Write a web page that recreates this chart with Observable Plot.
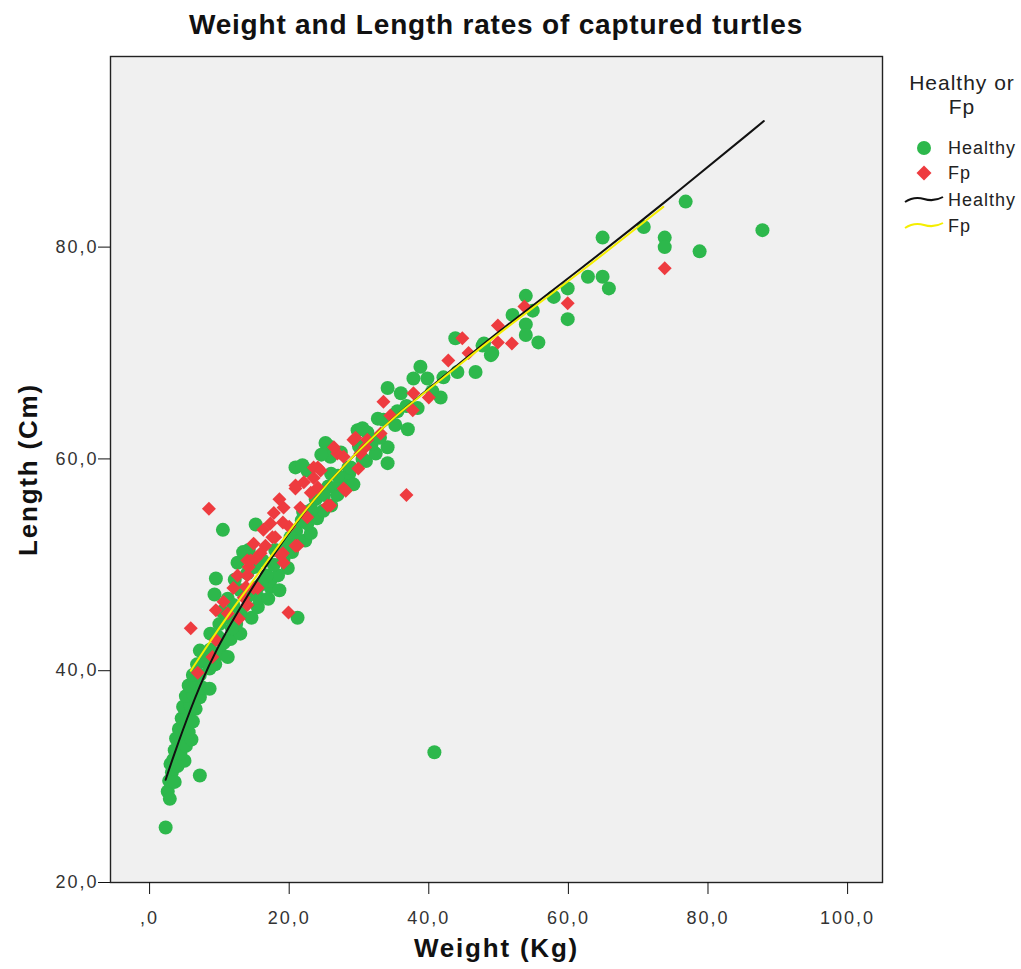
<!DOCTYPE html>
<html><head><meta charset="utf-8">
<script src="https://cdn.jsdelivr.net/npm/d3@7"></script>
<script src="https://cdn.jsdelivr.net/npm/@observablehq/plot@0.6"></script>
<style>
body{margin:0;background:#fff;font-family:"Liberation Sans",Arial,sans-serif;}
#wrap{position:relative;width:1021px;height:969px;overflow:hidden}
#title{height:48px;line-height:50px;width:992px;text-align:center;font-weight:bold;font-size:28px;letter-spacing:0.8px;color:#111}
.lg{position:absolute;font-size:18px;letter-spacing:1px;color:#222;white-space:nowrap}
</style></head>
<body><div id="wrap"><div id="title">Weight and Length rates of captured turtles</div><div id="chart"></div></div>
<script>
const xTicks = [0, 20, 40, 60, 80, 100];
const yTicks = [20, 40, 60, 80];
const groups = ["Healthy", "Fp"];
// Healthy turtles: [weight kg, length cm]
const healthyPts = [
[2.3,25.2],[2.6,28.6],[2.9,27.9],[2.8,29.6],[3.2,30.4],[3.6,29.5],[3.0,31.2],[3.4,31.6],[4.0,31.0],[5.0,31.5],[3.6,32.5],[4.4,32.2],[3.8,33.6],[4.6,33.3],[5.2,32.9],[6.0,33.5],[4.2,34.5],[5.0,34.6],[5.6,34.2],[4.6,35.5],[5.4,35.8],[6.2,35.2],[4.8,36.6],[5.8,36.8],[6.6,36.4],[5.2,37.6],[6.2,37.8],[7.2,37.5],[5.6,38.6],[6.6,38.8],[7.6,38.4],[8.6,38.3],[6.2,39.6],[7.2,39.6],[8.6,40.2],[6.8,40.6],[7.8,41.0],[9.4,40.6],[7.2,41.9],[8.7,42.0],[10.2,41.6],[11.2,41.3],[8.7,43.5],[9.8,43.2],[10.6,42.6],[11.6,43.0],[7.2,30.1],[40.8,32.3],[10.0,44.4],
[9.5,48.7],[9.3,47.2],[10.5,53.3],[15.2,53.8],[21.2,45.0],[13.0,43.5],[11.2,45.0],[12.4,44.4],[14.6,45.0],[15.5,46.0],[15.6,46.9],[15.5,47.9],[17.3,47.9],[17.3,48.5],[14.0,49.2],[14.2,51.4],[19.8,49.7],[18.4,49.0],[16.8,49.0],[19.2,50.6],[18.0,51.4],[20.4,51.2],[22.3,52.3],[23.1,53.0],[22.6,53.9],[21.0,53.2],[20.2,52.6],[24.0,54.4],[24.9,55.1],[26.0,55.6],[22.0,55.0],[23.8,56.2],[26.9,56.6],[25.6,57.4],[28.0,58.0],[20.9,59.2],[12.0,46.2],[13.0,47.6],[11.2,46.8],[12.6,50.2],[13.4,51.2],[12.2,48.6],[16.2,50.4],[13.0,45.4],[17.0,46.8],[18.6,47.6],
[16.0,48.2],[17.8,50.0],[19.6,51.8],[21.4,52.2],[15.0,49.8],[21.8,54.2],[23.2,55.2],[25.0,56.6],[27.2,57.6],[28.6,58.6],[30.0,61.2],[31.0,59.8],[10.4,45.6],[11.8,44.0],[14.0,47.0],
[25.5,61.3],[29.8,62.7],[31.2,62.5],[28.5,59.2],[30.5,62.9],[32.7,63.8],[33.5,63.7],[34.1,61.1],[32.4,60.5],[34.1,59.6],[25.2,61.5],[27.4,60.6],[25.9,60.2],[22.6,58.9],[21.9,59.4],[28.8,59.2],[30.5,60.0],[31.8,61.4],[27.0,58.4],[29.2,57.6],[26.0,58.6],[24.6,60.4],[34.1,66.7],[36.0,66.2],[37.8,67.6],[38.8,68.7],[39.8,67.6],[41.7,65.8],[42.1,67.7],[43.8,71.4],[44.1,68.2],[46.7,68.2],[47.7,70.7],[49.1,70.0],[47.9,70.9],[48.9,69.8],[36.8,65.0],[38.4,64.8],[40.5,66.4],[35.2,63.2],[37.0,62.8],[33.0,62.0],[35.5,64.5],
[52.0,73.6],[53.9,75.4],[54.9,74.0],[53.9,72.7],[53.9,71.7],[55.7,71.0],[57.9,75.3],[59.9,76.1],[59.9,73.2],[62.8,77.2],[64.9,77.2],[65.8,76.1],[64.9,80.9],[70.8,81.9],[73.8,80.9],[73.8,80.0],[76.8,84.3],[78.8,79.6],[87.8,81.6]
];
// Fp turtles: [weight kg, length cm]
const fpPts = [
[5.9,44.0],[8.5,55.3],[6.9,39.8],[9.0,41.3],[9.5,42.9],[9.5,45.7],[11.2,45.4],[12.8,44.9],[10.6,46.5],[13.5,46.9],[14.0,46.2],[12.0,47.8],[14.9,47.8],[14.0,49.0],[14.2,49.8],[12.6,49.0],[13.8,47.9],[14.0,50.4],[19.2,50.2],[19.9,45.5],[15.9,51.1],[19.1,51.1],[14.9,52.0],[16.3,53.3],[17.3,53.9],[17.8,54.9],[19.2,55.4],[21.2,51.8],[20.9,57.2],[22.1,57.8],[23.5,58.2],[23.1,56.8],[24.1,59.2],[25.5,55.6],[27.8,57.2],[29.9,59.1],[26.9,60.5],[29.2,61.8],[30.9,61.1],[23.5,59.2],[24.5,58.9],[26.4,61.1],[27.8,60.2],[30.2,60.5],[29.5,62.0],[31.2,61.8],[33.1,62.4],[34.5,64.1],[33.5,65.4],[37.7,64.6],[37.8,66.2],[40.0,65.8],[42.8,69.3],[45.7,70.0],[44.8,71.4],[36.8,56.6],[49.9,72.6],[49.9,71.0],[51.9,70.9],[53.7,74.4],[59.9,74.7],[73.8,78.0],[18.0,52.6],[20.0,53.6],[21.6,55.4],[16.6,51.8],[15.2,50.6],[18.6,56.2],[22.6,54.5],[19.1,54.0],[17.6,52.6],[18.8,50.9],[14.5,50.4],[15.5,47.8],[20.9,51.8],[24.1,57.3],[28.1,57.0],[25.9,55.6],[20.9,57.5]
];
// Fit lines
const fitHealthy = [[2.3,29.7],[3.3,31.7],[5.9,36.5],[8.5,40.6],[11.2,44.0],[14.5,47.6],[16.6,49.8],[18.8,52.0],[23.5,56.2],[28.4,59.8],[32.7,62.5],[36.0,64.5],[43.1,68.3],[50.3,72.2],[61.7,77.9],[73.6,84.1],[88.0,91.9]];
const fitFp = [[5.9,40.0],[8.7,42.8],[11.2,45.2],[14.5,48.2],[16.6,50.1],[18.8,52.1],[23.5,56.2],[28.4,59.8],[32.7,62.5],[36.0,64.5],[43.1,68.2],[50.3,72.0],[61.7,77.6],[73.6,83.8]];

const GREEN = "#2db84c", RED = "#ee3b3f", YELLOW = "#f5ee00";
const fmt = d => d === 0 ? ",0" : d.toFixed(1).replace(".", ",");
const toObj = (arr, g) => arr.map(([w, l]) => ({w, l, g}));

const chart = Plot.plot({
  width: 1021, height: 921,
  marginLeft: 110, marginRight: 139, marginTop: 8, marginBottom: 87,
  x: {domain: [-5.6, 105]},
  y: {domain: [20, 98]},
  style: {fontFamily: '"Liberation Sans", Arial, sans-serif', fontSize: "18px", color: "#333", background: "#fff"},
  marks: [
    Plot.frame({fill: "#f0f0f0"}),
    Plot.dot(toObj(healthyPts, groups[0]), {x: "w", y: "l", r: 7, fill: GREEN, symbol: "circle"}),
    Plot.dot(toObj(fpPts, groups[1]), {x: "w", y: "l", r: 6.3, fill: RED, symbol: "diamond2"}),
    Plot.line(toObj(fitHealthy, groups[0]), {x: "w", y: "l", stroke: "#111", strokeWidth: 2, curve: "basis"}),
    Plot.line(toObj(fitFp, groups[1]), {x: "w", y: "l", stroke: YELLOW, strokeWidth: 2, curve: "basis"}),
    Plot.frame({stroke: "#222", strokeWidth: 1.4}),
    Plot.axisX({ticks: xTicks, tickFormat: fmt, tickSize: 12, tickPadding: 17, label: null, stroke: "#111"}),
    Plot.axisY({ticks: yTicks, tickFormat: fmt, tickSize: 12, tickPadding: 0, label: null, stroke: "#111"}),
    Plot.text(["Weight (Kg)"], {frameAnchor: "bottom", dy: 74, fontWeight: "bold", fontSize: 26, fill: "#111"}),
    Plot.text(["Length (Cm)"], {frameAnchor: "left", dx: -82, rotate: -90, textAnchor: "middle", fontWeight: "bold", fontSize: 26, fill: "#111"})
  ]
});
document.getElementById("chart").appendChild(chart);
// letter spacing for axis titles and tick labels (SPSS-like wide glyphs)
d3.select(chart).selectAll("text").each(function() {
  const t = this.textContent;
  if (t === "Weight (Kg)" || t === "Length (Cm)") this.style.letterSpacing = "1.8px";
  else if (/^\d*,\d$/.test(t)) this.style.letterSpacing = "2px";
});

// Legend (HTML overlay on the right margin)
const wrap = document.getElementById("wrap");
function add(html, style) { const d = document.createElement("div"); d.className = "lg"; d.innerHTML = html; Object.assign(d.style, style); wrap.appendChild(d); return d; }
add("Healthy or<br>Fp", {left: "892px", top: "71px", width: "140px", textAlign: "center", fontSize: "21px", lineHeight: "24px"});
const items = [
  {label: groups[0], sym: `<circle cx="20" cy="10" r="7" fill="${GREEN}"/>`, y: 138},
  {label: groups[1], sym: `<path d="M20,2.5 L27.5,10 L20,17.5 L12.5,10Z" fill="${RED}"/>`, y: 163},
  {label: groups[0], sym: `<path d="M1,12 Q10,6 20,9 T39,7" fill="none" stroke="#111" stroke-width="2"/>`, y: 190},
  {label: groups[1], sym: `<path d="M1,12 Q10,6 20,9 T39,7" fill="none" stroke="${YELLOW}" stroke-width="2"/>`, y: 216}
];
for (const it of items) {
  add(`<svg width="42" height="20" style="position:absolute;left:0;top:0">${it.sym}</svg>`, {left: "904px", top: it.y + "px", width: "42px", height: "20px"});
  add(it.label, {left: "948px", top: it.y + "px", lineHeight: "20px"});
}
</script></body></html>
